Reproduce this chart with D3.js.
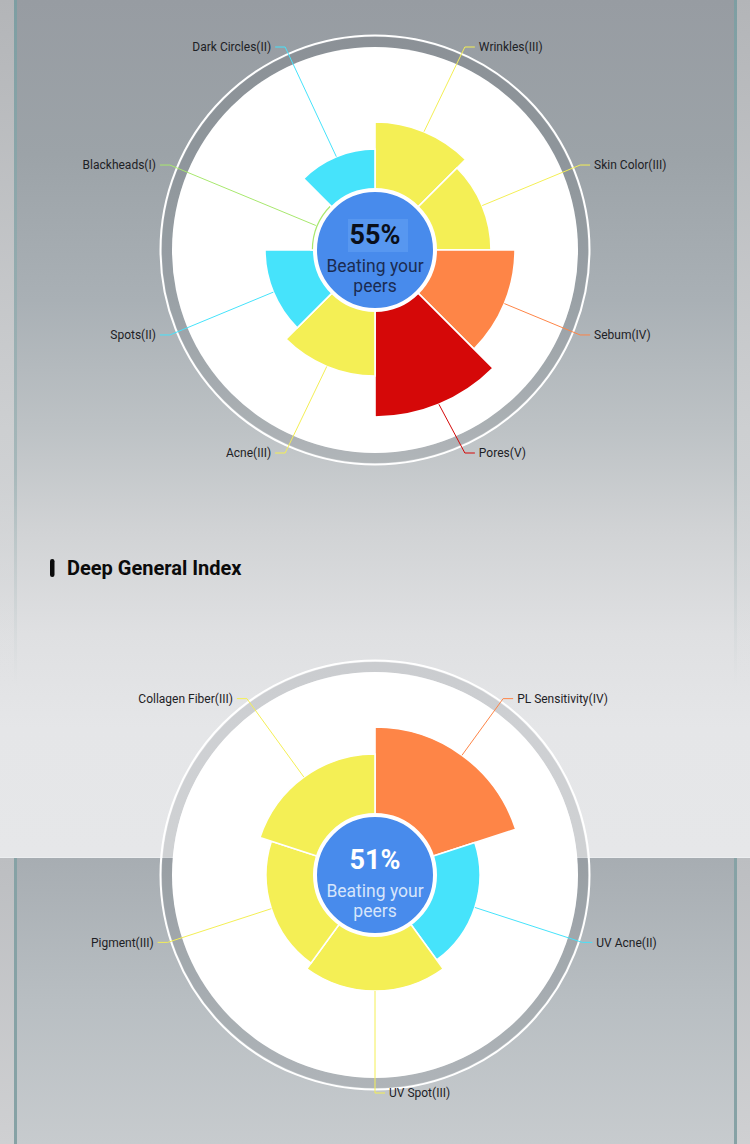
<!DOCTYPE html>
<html>
<head>
<meta charset="utf-8">
<script src="https://cdn.jsdelivr.net/npm/d3@7"></script>
<style>
html,body{margin:0;padding:0;background:#c9cbce;}
svg{display:block;font-family:Roboto,"Noto Sans",sans-serif;}
</style>
</head>
<body>
<svg id="chart" width="750" height="1144"></svg>
<script>
// ---- data ----
const skinCategories = ["Wrinkles","Skin Color","Sebum","Pores","Acne","Spots","Blackheads","Dark Circles"];
const skinLevels     = ["III","III","IV","V","III","II","I","II"];
const skinValues     = [64, 58, 70, 83.5, 63, 55, 32, 50.5];
const skinScore = "55%";

const deepCategories = ["PL Sensitivity","UV Acne","UV Spot","Pigment","Collagen Fiber"];
const deepLevels     = ["IV","II","III","III","III"];
const deepValues     = [74, 52.5, 58, 54.5, 60.5];
const deepScore = "51%";

const sectionTitle = "Deep General Index";
const centerLines = ["Beating your","peers"];

const levelColors = {I:"#a8e86e", II:"#46e3fb", III:"#f4ef55", IV:"#fe8547", V:"#d50808"};

// ---- page ----
const svg = d3.select("#chart");
const defs = svg.append("defs");

function vgrad(id, stops){
  const g = defs.append("linearGradient").attr("id",id).attr("x1",0).attr("y1",0).attr("x2",0).attr("y2",1);
  stops.forEach(s=>g.append("stop").attr("offset",s[0]).attr("stop-color",s[1]).attr("stop-opacity",s[2]===undefined?1:s[2]));
}
vgrad("topBg",[[0,"#979ca2"],[0.18,"#9ca3a8"],[0.35,"#a9b0b5"],[0.5,"#bdc2c5"],[0.62,"#d1d3d5"],[0.74,"#dfe0e2"],[0.85,"#e5e6e8"],[1,"#e6e7e9"]]);
vgrad("botBg",[[0,"#a7adb2"],[0.5,"#b8bec2"],[1,"#c7cbce"]]);
vgrad("stripFade",[[0,"#b3b5b8",1],[0.5,"#cdcfd1",1],[0.8,"#e0e1e3",0]]);
vgrad("lineFade",[[0,"#7d9ea2",1],[0.55,"#9fb4b6",0.8],[0.8,"#c0cbcc",0]]);
vgrad("stripBot",[[0,"#bcbec1"],[1,"#cfd0d2"]]);

// top section
svg.append("rect").attr("x",0).attr("y",0).attr("width",750).attr("height",857).attr("fill","url(#topBg)");
[[0,14],[737,13]].forEach(([x,w])=>svg.append("rect").attr("x",x).attr("y",0).attr("width",w).attr("height",857).attr("fill","url(#stripFade)"));
[[14,3],[734,3]].forEach(([x,w])=>svg.append("rect").attr("x",x).attr("y",0).attr("width",w).attr("height",857).attr("fill","url(#lineFade)"));
// bottom section
svg.append("rect").attr("x",0).attr("y",857).attr("width",750).attr("height",287).attr("fill","url(#botBg)");
[[0,14],[737,13]].forEach(([x,w])=>svg.append("rect").attr("x",x).attr("y",857).attr("width",w).attr("height",287).attr("fill","url(#stripBot)"));
[[14,3],[734,3]].forEach(([x,w])=>svg.append("rect").attr("x",x).attr("y",857).attr("width",w).attr("height",287).attr("fill","#86a2a5"));
svg.append("line").attr("x1",0).attr("x2",750).attr("y1",857.5).attr("y2",857.5).attr("stroke","#eceef0").attr("stroke-width",1);

// title
svg.append("rect").attr("x",50).attr("y",559).attr("width",4.5).attr("height",18).attr("rx",2.2).attr("fill","#0b0b0b");
svg.append("text").attr("x",67).attr("y",575).attr("font-size",20).attr("font-weight",700).attr("fill","#0b0b0b").text(sectionTitle);

// ---- rose charts ----
const rScale = d3.scaleLinear().domain([0,100]).range([0,200]);

function rose(cx, cy, cats, levels, values, score, opts){
  const g = svg.append("g").attr("transform",`translate(${cx},${cy})`);
  // outer decorations
  g.append("circle").attr("r",208).attr("fill","none").attr("stroke","rgba(55,60,66,0.13)").attr("stroke-width",10);
  g.append("circle").attr("r",214.5).attr("fill","none").attr("stroke","#ffffff").attr("stroke-width",2);
  g.append("circle").attr("r",203).attr("fill","#ffffff");

  const angle = d3.scaleBand().domain(cats).range([0,2*Math.PI]).paddingInner(0).paddingOuter(0);
  const arc = d3.arc().innerRadius(0).outerRadius(d=>rScale(d.v))
    .startAngle(d=>angle(d.c)).endAngle(d=>angle(d.c)+angle.bandwidth());
  const data = cats.map((c,i)=>({c, v:values[i], lvl:levels[i]}));

  g.selectAll("path.sector").data(data).join("path").attr("class","sector")
    .attr("d",arc).attr("fill",d=>levelColors[d.lvl]).attr("stroke","#ffffff").attr("stroke-width",1.6);

  // labels
  data.forEach(d=>{
    const a = angle(d.c)+angle.bandwidth()/2;
    const r0 = rScale(d.v);
    const sx = Math.sin(a)*r0, sy = -Math.cos(a)*r0;
    const R = opts.labelR;
    let ey = -Math.cos(a)*R;
    let ex = Math.sin(a)*R;
    if (Math.abs(ey) > opts.maxY){
      ey = Math.sign(ey)*opts.maxY;
      ex = Math.sign(ex)*Math.sqrt(R*R - ey*ey);
    }
    const side = Math.sin(a) >= 0 ? 1 : -1;
    const hx = ex + side*10;
    g.append("polyline").attr("points",[[sx,sy],[ex,ey],[hx,ey]].map(p=>p.join(",")).join(" "))
      .attr("fill","none").attr("stroke",levelColors[d.lvl]).attr("stroke-width",1);
    g.append("text").attr("x",hx+side*4).attr("y",ey).attr("dy","0.35em")
      .attr("text-anchor",side>0?"start":"end").attr("font-size",12).attr("fill","#1d2125")
      .text(`${d.c}(${d.lvl})`);
  });

  // center
  g.append("circle").attr("r",60).attr("fill","#488bec").attr("stroke","#ffffff").attr("stroke-width",4);
  if(opts.highlight){
    g.append("rect").attr("x",-27).attr("y",-31).attr("width",60).attr("height",33).attr("fill","#5797f0");
  }
  g.append("text").attr("x",0).attr("y",-6).attr("text-anchor","middle").attr("font-size",27).attr("font-weight",700)
    .attr("fill",opts.scoreColor).text(score);
  g.append("text").attr("x",0).attr("y",21.5).attr("text-anchor","middle").attr("font-size",17.5)
    .attr("fill",opts.textColor).text(centerLines[0]);
  g.append("text").attr("x",0).attr("y",42).attr("text-anchor","middle").attr("font-size",17.5)
    .attr("fill",opts.textColor).text(centerLines[1]);
}

rose(375, 250, skinCategories, skinLevels, skinValues, skinScore, {labelR:222, maxY:203, scoreColor:"#0a0f1a", textColor:"#1b2c52", highlight:true});
rose(375, 875, deepCategories, deepLevels, deepValues, deepScore, {labelR:218, maxY:999, scoreColor:"#ffffff", textColor:"#d6e5fb", highlight:false});
</script>
</body>
</html>
